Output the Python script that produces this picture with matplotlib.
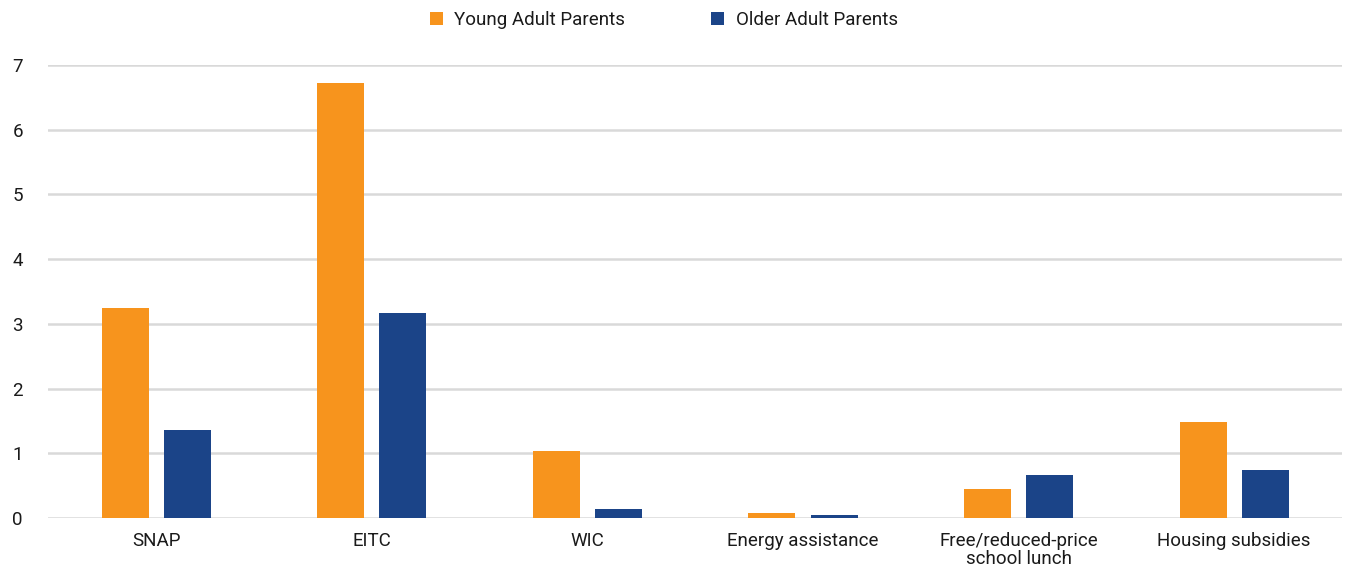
import matplotlib.pyplot as plt
import numpy as np
from matplotlib import font_manager

# data
categories = ["SNAP", "EITC", "WIC", "Energy assistance",
              "Free/reduced-price\nschool lunch", "Housing subsidies"]
young_parents = [3.25, 6.72, 1.04, 0.08, 0.45, 1.48]
older_parents = [1.36, 3.17, 0.14, 0.05, 0.66, 0.74]
y_ticks = [0, 1, 2, 3, 4, 5, 6, 7]

orange = "#F7941D"
navy = "#1B4488"

names = {f.name for f in font_manager.fontManager.ttflist}
if "Liberation Sans Narrow" in names:
    plt.rcParams['font.family'] = ["Liberation Sans Narrow", "DejaVu Sans"]
    fs = 15
else:
    plt.rcParams['font.family'] = ["Roboto", "DejaVu Sans"]
    fs = 13.5

fig = plt.figure(figsize=(13.46, 5.68), dpi=100)
ax = fig.add_axes([0.036, 0.088, 0.961, 0.7976])

x = np.arange(len(categories))
width = 0.218
offset = 0.144

ax.bar(x - offset, young_parents, width, color=orange, label="Young Adult Parents", zorder=3)
ax.bar(x + offset, older_parents, width, color=navy, label="Older Adult Parents", zorder=3)

ax.set_xlim(-0.5, len(categories) - 0.5)
ax.set_ylim(0, 7)
ax.set_yticks(y_ticks)
ax.set_xticks(x)
ax.set_xticklabels(categories, fontsize=fs, color="#1a1a1a", linespacing=1.0)
ax.tick_params(axis='y', labelsize=fs, labelcolor="#1a1a1a", length=0, pad=26)
ax.tick_params(axis='x', length=0, pad=10)
for lbl in ax.get_yticklabels():
    lbl.set_horizontalalignment('left')

ax.grid(True, axis='y', color="#d9d9d9", linewidth=1.8, zorder=0)
for s in ax.spines.values():
    s.set_visible(False)

handles, labels = ax.get_legend_handles_labels()
fig.legend(handles, labels, loc='center', bbox_to_anchor=(0.493, 0.965), ncol=2,
           frameon=False, fontsize=fs, handlelength=0.7, handleheight=0.7,
           columnspacing=4.6, handletextpad=0.6, labelcolor="#1a1a1a")

fig.savefig("out.png", dpi=100)
plt.close(fig)
